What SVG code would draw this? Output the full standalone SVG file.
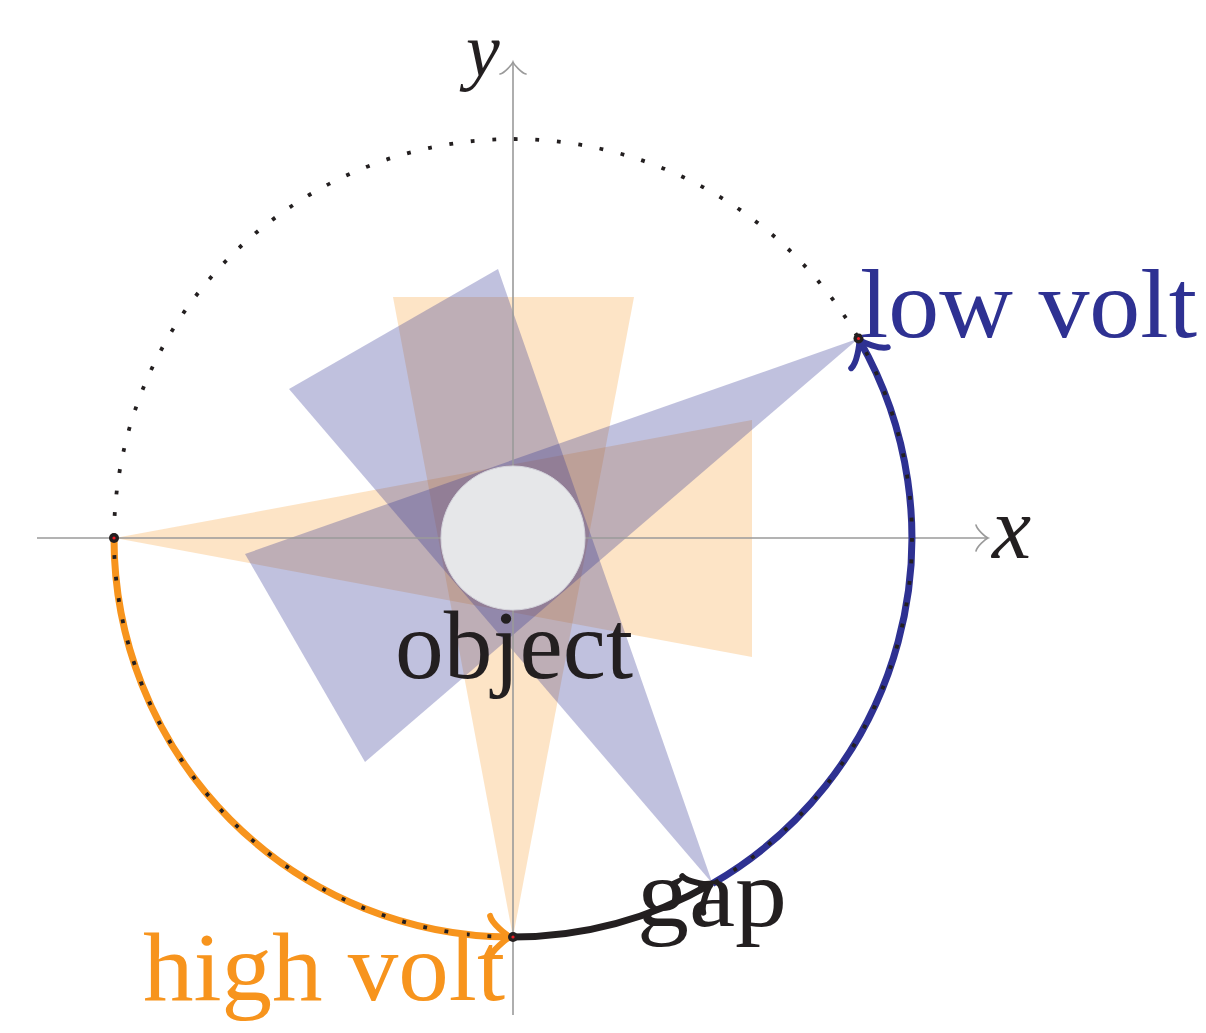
<svg xmlns="http://www.w3.org/2000/svg" width="1206" height="1033" viewBox="0 0 1206 1033">
<defs>
<style>
.tri-o{fill:#F7941D;fill-opacity:0.25}
.tri-p{fill:#2E3192;fill-opacity:0.3}
.axis{stroke:#9a9a9a;stroke-width:1.6;fill:none}
.lbl{font-family:"Liberation Serif","DejaVu Serif",serif;font-size:98px}
.math{font-family:"Liberation Serif","DejaVu Serif",serif;font-style:italic;fill:#231F20}
.arc{fill:none;stroke-width:7;stroke-linecap:butt}
.dot{fill:#231F20}
</style>
<marker id="axArrow" markerUnits="userSpaceOnUse" viewBox="-16 -16 20 32" refX="0" refY="0" markerWidth="20" markerHeight="32" orient="auto" overflow="visible">
<path d="M -12 13 C -11 8.5 -2.5 1 0 0 C -2.5 -1 -11 -8.5 -12 -13" fill="none" stroke="#9a9a9a" stroke-width="1.6" stroke-linecap="round"/>
</marker>
<marker id="arOrange" markerUnits="userSpaceOnUse" viewBox="-30 -30 40 60" refX="0" refY="0" markerWidth="40" markerHeight="60" orient="auto" overflow="visible">
<path d="M -21 21 C -19.5 13.5 -4.2 1.4 0 0 C -4.2 -1.4 -19.5 -13.5 -21 -21" fill="none" stroke="#F7941D" stroke-width="6" stroke-linecap="round" stroke-linejoin="round"/>
</marker>
<marker id="arBlue" markerUnits="userSpaceOnUse" viewBox="-30 -30 40 60" refX="0" refY="0" markerWidth="40" markerHeight="60" orient="auto" overflow="visible">
<path d="M -21 21 C -19.5 13.5 -4.2 1.4 0 0 C -4.2 -1.4 -19.5 -13.5 -21 -21" fill="none" stroke="#2E3192" stroke-width="6" stroke-linecap="round" stroke-linejoin="round"/>
</marker>
<marker id="arBlack" markerUnits="userSpaceOnUse" viewBox="-30 -30 40 60" refX="0" refY="0" markerWidth="40" markerHeight="60" orient="auto" overflow="visible">
<path d="M -21 21 C -19.5 13.5 -4.2 1.4 0 0 C -4.2 -1.4 -19.5 -13.5 -21 -21" fill="none" stroke="#231F20" stroke-width="6" stroke-linecap="round" stroke-linejoin="round"/>
</marker>
</defs>
<rect width="1206" height="1033" fill="#ffffff"/>

<g id="beams">
<polygon class="tri-o" points="115,538 752,420 752,657"/>
<polygon class="tri-o" points="513,937 393,297 634,297"/>
<polygon class="tri-p" points="858.5,338.5 245,554 365,762"/>
<polygon class="tri-p" points="712.5,883.5 289,389 498,269"/>
</g>

<g id="axes">
<line class="axis" x1="37" y1="538" x2="988" y2="538" marker-end="url(#axArrow)"/>
<line class="axis" x1="513" y1="1015" x2="513" y2="62" marker-end="url(#axArrow)"/>
<text class="math" x="992" y="558" font-size="88">x</text>
<text class="math" x="466" y="76" font-size="76">y</text>
</g>

<g id="object">
<circle cx="513" cy="538" r="72" fill="#E6E7E9" stroke="#d4d4dc" stroke-width="1"/>
<text class="lbl" x="395" y="678" fill="#231F20" textLength="238" lengthAdjust="spacingAndGlyphs">object</text>
</g>

<g id="connectors">
<path class="arc" stroke="#F7941D" d="M 114 538 A 399 399 0 0 0 511 937" marker-end="url(#arOrange)"/>
<path class="arc" stroke="#231F20" stroke-width="6" d="M 513 937 A 399 399 0 0 0 711 884" marker-end="url(#arBlack)"/>
<path class="arc" stroke="#2E3192" d="M 712.5 883.5 A 399 399 0 0 0 859 339.5" marker-end="url(#arBlue)"/>
<circle cx="513" cy="538" r="399" fill="none" stroke="#231F20" stroke-width="3.8" stroke-dasharray="3.8 17.813"/>
</g>

<g id="low-volt">
<circle class="dot" cx="858.5" cy="338.5" r="5"/>
<circle cx="858.5" cy="338.5" r="1.6" fill="#ED1C24"/>
<text class="lbl" x="860" y="337" fill="#2E3192" textLength="337" lengthAdjust="spacingAndGlyphs">low volt</text>
</g>

<g id="left-point">
<circle class="dot" cx="114" cy="538" r="5"/>
<circle cx="114" cy="538" r="1.6" fill="#ED1C24"/>
</g>

<g id="high-volt">
<circle class="dot" cx="513" cy="937" r="5"/>
<circle cx="513" cy="937" r="1.6" fill="#ED1C24"/>
<text class="lbl" x="143" y="1000" fill="#F7941D" textLength="362" lengthAdjust="spacingAndGlyphs">high volt</text>
</g>

<g id="gap">
<text class="lbl" x="637" y="926" fill="#231F20" textLength="150" lengthAdjust="spacingAndGlyphs">gap</text>
</g>
</svg>
